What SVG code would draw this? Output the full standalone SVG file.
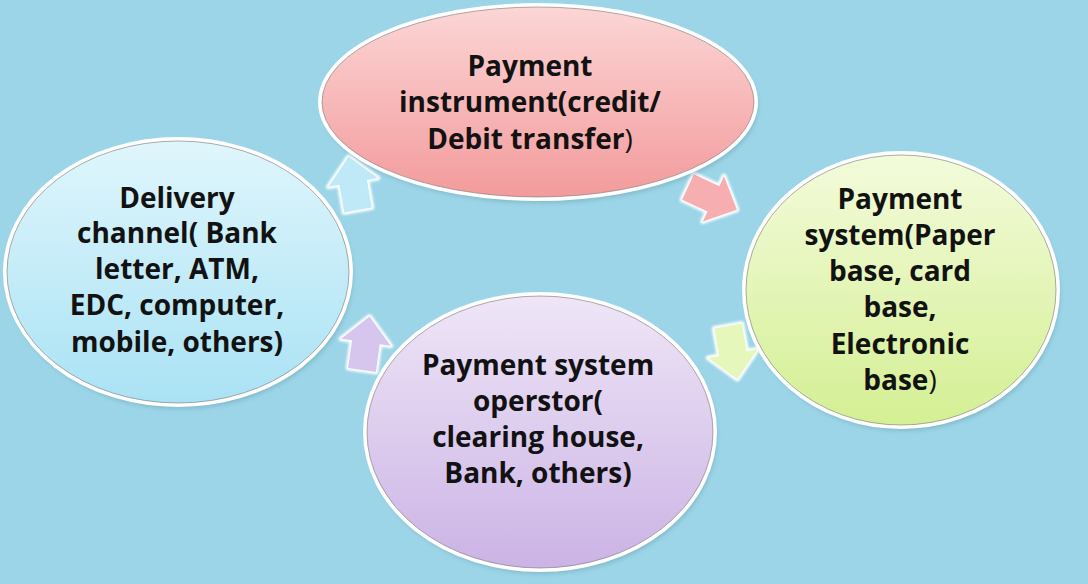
<svg xmlns="http://www.w3.org/2000/svg" width="1088" height="584" viewBox="0 0 1088 584">
<defs>
  <linearGradient id="gPink" x1="0" y1="0" x2="0" y2="1">
    <stop offset="0" stop-color="#fcd6d6"/>
    <stop offset="1" stop-color="#f39a9b"/>
  </linearGradient>
  <linearGradient id="gBlue" x1="0" y1="0" x2="0" y2="1">
    <stop offset="0" stop-color="#e0f6fc"/>
    <stop offset="1" stop-color="#a9e2f4"/>
  </linearGradient>
  <linearGradient id="gGreen" x1="0" y1="0" x2="0" y2="1">
    <stop offset="0" stop-color="#f3fbdb"/>
    <stop offset="1" stop-color="#d4ef93"/>
  </linearGradient>
  <linearGradient id="gPurple" x1="0" y1="0" x2="0" y2="1">
    <stop offset="0" stop-color="#efe6f7"/>
    <stop offset="1" stop-color="#cbb3e5"/>
  </linearGradient>
  <filter id="glow" x="-30%" y="-30%" width="160%" height="160%">
    <feGaussianBlur stdDeviation="1.2"/>
  </filter>
  <filter id="shadow" x="-10%" y="-10%" width="120%" height="120%">
    <feGaussianBlur stdDeviation="2"/>
  </filter>
  <path id="arrow" d="M0,-14 L28,-14 L28,-25 L54,0 L28,25 L28,14 L0,14 Z"/>
</defs>
<style>
  .bg { fill: #9bd5e7; }
  .rim { fill: none; stroke: #ffffff; stroke-width: 4; }
  .edge { fill: none; stroke: #6b6b6b; stroke-width: 1; stroke-opacity: 0.55; }
  .shadowE { fill: #5a8a99; opacity: 0.35; }
  .label { font-family: "Open Sans", Lato, "Liberation Sans", sans-serif; font-weight: bold; font-size: 28px; fill: #121212; text-anchor: middle; }
  .thin { font-weight: normal; }
  .arrowGlow { fill: #ffffff; stroke: #ffffff; stroke-width: 5; stroke-linejoin: round; }
</style>
<rect class="bg" x="0" y="0" width="1088" height="584"/>

<g id="connectors">
  <g transform="translate(688,187) rotate(25)">
    <use href="#arrow" class="arrowGlow" filter="url(#glow)"/>
    <use href="#arrow" fill="#f7aeb0"/>
  </g>
  <g transform="translate(728,326) rotate(80)">
    <use href="#arrow" class="arrowGlow" filter="url(#glow)"/>
    <use href="#arrow" fill="#e6f7bb"/>
  </g>
  <g transform="translate(362,370) rotate(-82)">
    <use href="#arrow" class="arrowGlow" filter="url(#glow)"/>
    <use href="#arrow" fill="#d6c6ee"/>
  </g>
  <g transform="translate(358,210) rotate(-100)">
    <use href="#arrow" class="arrowGlow" filter="url(#glow)"/>
    <use href="#arrow" fill="#bfe9f7"/>
  </g>
</g>

<g id="node-instrument">
  <ellipse class="shadowE" cx="540" cy="106" rx="218" ry="97" filter="url(#shadow)"/>
  <ellipse cx="538" cy="102" rx="218" ry="97" fill="url(#gPink)"/>
  <ellipse class="rim" cx="538" cy="102" rx="218" ry="97"/>
  <ellipse class="edge" cx="538" cy="102" rx="216" ry="95"/>
  <text class="label" x="530" y="76">Payment</text>
  <text class="label" x="530" y="112">instrument(credit/</text>
  <text class="label" x="530" y="149">Debit transfer<tspan class="thin">)</tspan></text>
</g>

<g id="node-system">
  <ellipse class="shadowE" cx="903" cy="294" rx="157" ry="137" filter="url(#shadow)"/>
  <ellipse cx="901" cy="290" rx="157" ry="137" fill="url(#gGreen)"/>
  <ellipse class="rim" cx="901" cy="290" rx="157" ry="137"/>
  <ellipse class="edge" cx="901" cy="290" rx="155" ry="135"/>
  <text class="label" x="900" y="209">Payment</text>
  <text class="label" x="900" y="245">system(Paper</text>
  <text class="label" x="900" y="281">base, card</text>
  <text class="label" x="900" y="317">base,</text>
  <text class="label" x="900" y="354">Electronic</text>
  <text class="label" x="900" y="390">base<tspan class="thin">)</tspan></text>
</g>

<g id="node-operator">
  <ellipse class="shadowE" cx="542" cy="436" rx="175" ry="138" filter="url(#shadow)"/>
  <ellipse cx="540" cy="432" rx="175" ry="138" fill="url(#gPurple)"/>
  <ellipse class="rim" cx="540" cy="432" rx="175" ry="138"/>
  <ellipse class="edge" cx="540" cy="432" rx="173" ry="136"/>
  <text class="label" x="538" y="375">Payment system</text>
  <text class="label" x="538" y="411">operstor(</text>
  <text class="label" x="538" y="447">clearing house,</text>
  <text class="label" x="538" y="483">Bank, others)</text>
</g>

<g id="node-channel">
  <ellipse class="shadowE" cx="180" cy="276" rx="173" ry="133" filter="url(#shadow)"/>
  <ellipse cx="178" cy="272" rx="173" ry="133" fill="url(#gBlue)"/>
  <ellipse class="rim" cx="178" cy="272" rx="173" ry="133"/>
  <ellipse class="edge" cx="178" cy="272" rx="171" ry="131"/>
  <text class="label" x="177" y="208">Delivery</text>
  <text class="label" x="177" y="243">channel( Bank</text>
  <text class="label" x="177" y="279">letter, ATM,</text>
  <text class="label" x="177" y="315">EDC, computer,</text>
  <text class="label" x="177" y="352">mobile, others)</text>
</g>
</svg>
